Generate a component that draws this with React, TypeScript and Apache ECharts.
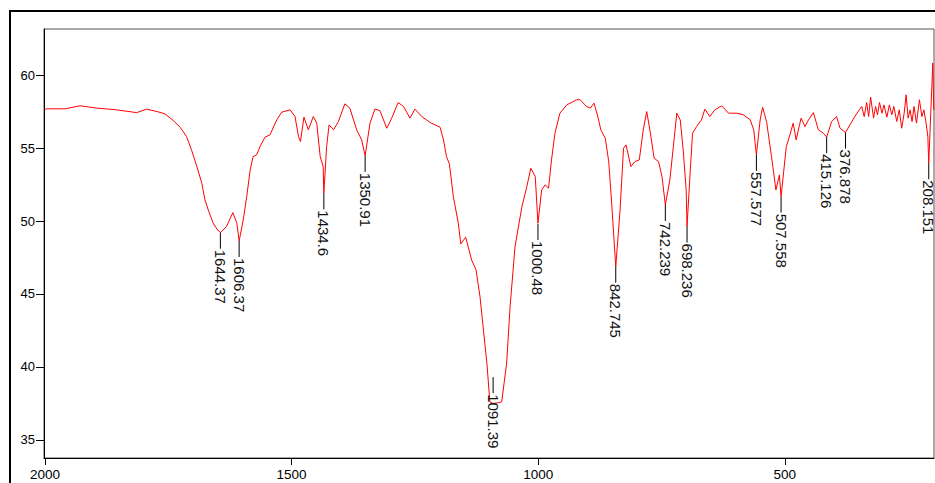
import React, { useEffect, useRef } from "react";
import * as echarts from "echarts";

// Spectrum trace: wavenumber (cm-1) and transmittance (%)
const wavenumbers: number[] = [
  2000, 1997, 1959, 1929, 1895, 1855, 1814, 1794, 1773, 1757, 1740, 1726, 1713, 1703, 1692, 1682, 1676, 1669, 1659, 1650,
  1644.37, 1632, 1619, 1611, 1606.37, 1598, 1591, 1584, 1578, 1571, 1564, 1554, 1544, 1530, 1520, 1503, 1493, 1486, 1482, 1475,
  1466, 1456, 1449, 1442, 1436, 1434.6, 1429, 1424, 1415, 1405, 1392, 1382, 1368, 1358, 1350.91, 1341, 1331, 1321, 1307, 1297,
  1284, 1273, 1260, 1250, 1236, 1219, 1199, 1192, 1186, 1180, 1172, 1162, 1157, 1147, 1135, 1126, 1118, 1111, 1104, 1098,
  1091.39, 1080, 1074, 1064, 1057, 1047, 1033, 1023, 1015, 1006, 1000.48, 993, 986, 979, 973, 966, 956, 942, 922, 915,
  902, 894, 887, 880, 873, 864, 857, 851, 842.745, 834, 827, 822, 812, 804, 795, 787, 780, 773, 765, 756,
  749, 742.239, 733, 726, 719, 712, 706, 700, 698.236, 692, 687, 679, 669, 662, 652, 642, 628, 614, 597, 584,
  570, 563, 557.577, 550, 545, 537, 527, 518, 511, 507.558, 497, 491, 483, 477, 467, 459, 452, 442, 432, 422,
  415.126, 405, 395, 388, 376.878, 368, 358, 349, 344, 339, 334, 330, 326, 320, 316, 312, 308, 303, 299, 293,
  288, 283, 279, 273, 268, 263, 258, 254, 250, 246, 242, 238, 233, 227, 222, 218, 214, 210, 208.151, 202,
  200, 198,
];
const transmittance: number[] = [
  57.65, 57.69, 57.69, 57.9, 57.74, 57.62, 57.43, 57.67, 57.5, 57.35, 56.89, 56.43, 55.79, 54.88, 53.73, 52.59, 51.5, 50.76, 49.85, 49.39,
  49.2, 49.62, 50.58, 49.85, 48.63, 50.08, 51.67, 53.5, 54.42, 54.53, 55.1, 55.75, 55.9, 56.93, 57.46, 57.62, 57.16, 55.79, 55.45, 57.12,
  56.25, 57.16, 56.71, 54.42, 53.73, 51.9, 55.1, 56.59, 56.25, 56.82, 58.03, 57.74, 56.25, 55.56, 54.47, 56.71, 57.67, 57.57, 56.36, 57.05,
  58.12, 57.85, 57.05, 57.67, 57.16, 56.75, 56.43, 55.56, 54.42, 53.9, 51.67, 49.85, 48.43, 48.89, 47.33, 46.65, 44.82, 42.53, 40.25, 37.61,
  37.5, 37.55, 37.61, 40.25, 44.13, 48.25, 50.99, 52.36, 53.62, 53.05, 49.85, 52.13, 52.48, 52.25, 54.19, 56.02, 57.39, 57.96, 58.31, 58.31,
  57.85, 57.74, 58.08, 57.28, 56.25, 55.68, 54.07, 51.22, 46.87, 50.76, 54.99, 55.22, 53.73, 54.07, 54.19, 56.25, 57.5, 56.13, 54.31, 54.07,
  53.05, 51.1, 52.82, 55.1, 57.39, 56.93, 54.88, 52.13, 49.62, 53.28, 56.02, 56.47, 56.93, 57.67, 57.16, 57.62, 57.89, 57.39, 57.39, 57.28,
  56.93, 56.25, 54.53, 56.93, 57.8, 56.82, 54.42, 52.13, 53.16, 51.67, 55.1, 55.75, 56.71, 55.56, 57.05, 56.47, 56.93, 57.43, 56.25, 56.02,
  55.75, 56.82, 57.16, 56.36, 56.06, 56.59, 57.16, 57.62, 57.85, 57.16, 58.12, 57.16, 58.49, 57.05, 57.85, 57.28, 58.12, 57.39, 57.96, 57.12,
  57.96, 57.28, 57.85, 56.82, 57.62, 56.36, 57.39, 58.65, 57.05, 57.62, 56.82, 57.85, 56.71, 58.31, 57.16, 57.62, 56.82, 55.79, 53.96, 59.11,
  60.82, 57.62,
];

// Peak annotations
const peakLabels: string[] = [
  "1644.37", "1606.37", "1434.6", "1350.91", "1091.39", "1000.48", "842.745",
  "742.239", "698.236", "557.577", "507.558", "415.126", "376.878", "208.151",
];
const peakWavenumbers: number[] = [
  1644.37, 1606.37, 1434.6, 1350.91, 1091.39, 1000.48, 842.745,
  742.239, 698.236, 557.577, 507.558, 415.126, 376.878, 208.151,
];
const peakLabelT: number[] = [
  49.2, 48.63, 51.9, 54.47, 39.3, 49.8, 46.87,
  51.1, 49.62, 54.53, 51.67, 55.75, 56.06, 53.96,
];

const xTicks: number[] = [2000, 1500, 1000, 500];
const yTicks: number[] = [35, 40, 45, 50, 55, 60];

const FONT = "'Liberation Sans', Arial, sans-serif";

export default function App() {
  const ref = useRef<HTMLDivElement>(null);

  useEffect(() => {
    if (!ref.current) return;
    const chart = echarts.init(ref.current, null, { renderer: "svg" });
    const lineData = wavenumbers.map((w, i) => [w, transmittance[i]]);
    const peakData = peakWavenumbers.map((w, i) => [w, peakLabelT[i], i]);

    chart.setOption({
      animation: false,
      backgroundColor: "#ffffff",
      grid: {
        left: 44,
        right: 1,
        top: 29,
        bottom: 25,
        show: true,
        borderColor: "#555",
        borderWidth: 1,
        backgroundColor: "transparent",
      },
      xAxis: {
        type: "value",
        inverse: true,
        min: 197.5,
        max: 2002,
        splitLine: { show: false },
        axisLine: { show: true, onZero: false, lineStyle: { color: "#000", width: 1 } },
        axisTick: { show: true, length: 7, customValues: xTicks, lineStyle: { color: "#000" } },
        axisLabel: {
          customValues: xTicks,
          formatter: (v: number) => String(v),
          margin: 9,
          color: "#000",
          fontSize: 13.5,
          fontFamily: FONT,
        },
      },
      yAxis: {
        type: "value",
        min: 33.76,
        max: 63.16,
        splitLine: { show: false },
        axisLine: { show: true, onZero: false, lineStyle: { color: "#000", width: 1 } },
        axisTick: { show: true, length: 8, customValues: yTicks, lineStyle: { color: "#000" } },
        axisLabel: {
          customValues: yTicks,
          formatter: (v: number) => String(v),
          margin: 9,
          color: "#000",
          fontSize: 13,
          fontFamily: FONT,
        },
      },
      graphic: [
        {
          type: "rect",
          shape: { x: 10, y: 11, width: 940, height: 490 },
          style: { fill: "none", stroke: "#000", lineWidth: 2 },
          silent: true,
        },
      ],
      series: [
        {
          type: "line",
          data: lineData,
          showSymbol: false,
          symbol: "none",
          silent: true,
          lineStyle: { color: "#ff0000", width: 1 },
          z: 2,
        },
        {
          type: "custom",
          data: peakData,
          clip: false,
          silent: true,
          z: 3,
          renderItem: (params: any, api: any) => {
            const p = api.coord([api.value(0), api.value(1)]);
            const idx = api.value(2);
            const len = 16;
            return {
              type: "group",
              children: [
                {
                  type: "line",
                  shape: { x1: p[0], y1: p[1], x2: p[0], y2: p[1] + len },
                  style: { stroke: "#000", lineWidth: 1 },
                },
                {
                  type: "text",
                  x: p[0],
                  y: p[1] + len + 1,
                  rotation: -Math.PI / 2,
                  style: {
                    text: peakLabels[idx],
                    fontSize: 15,
                    fontFamily: FONT,
                    fill: "#111",
                    align: "left",
                    verticalAlign: "middle",
                  },
                },
              ],
            };
          },
        },
      ],
    });

    return () => {
      chart.dispose();
    };
  }, []);

  return (
    <div
      ref={ref}
      style={{ position: "fixed", left: 0, top: 0, width: 935, height: 483, background: "#fff" }}
    />
  );
}
